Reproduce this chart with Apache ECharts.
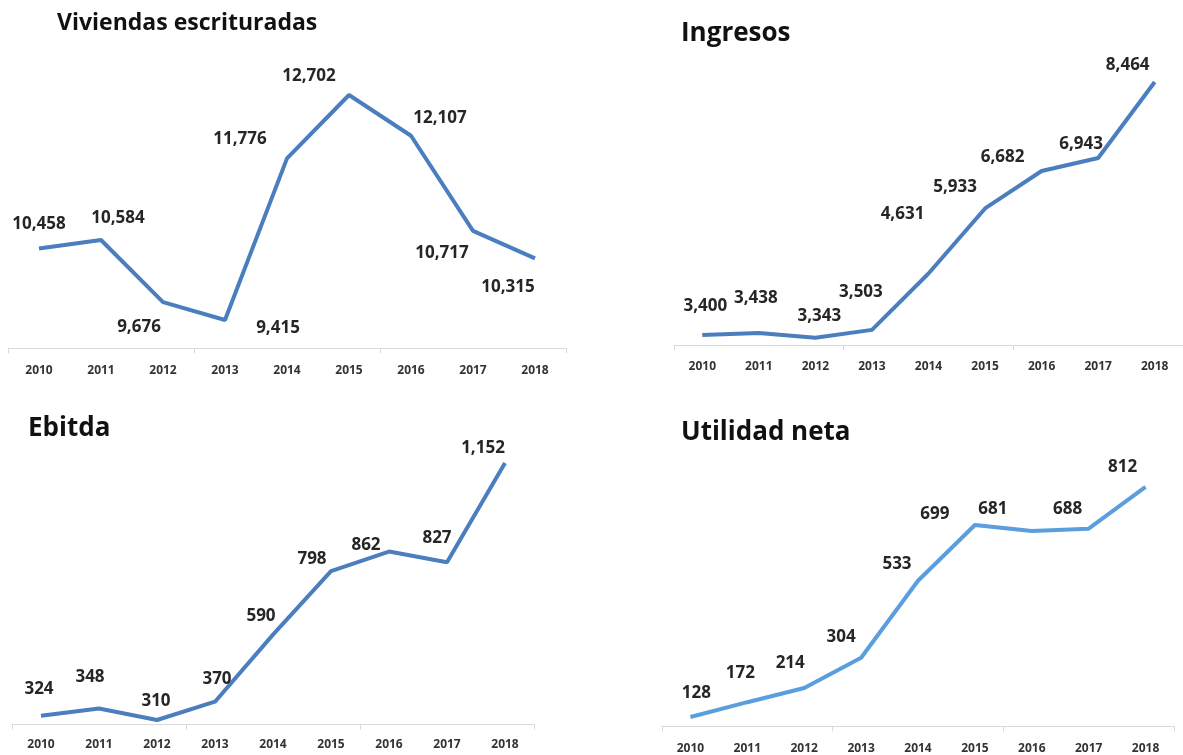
<!DOCTYPE html>
<html>
<head>
<meta charset="utf-8">
<script src="https://cdn.jsdelivr.net/npm/echarts@6/dist/echarts.min.js"></script>
<style>
  html, body { margin: 0; padding: 0; background: #fff; }
  #main { width: 1183px; height: 755px; }
</style>
</head>
<body>
<div id="main"></div>
<script>
// años (eje x compartido)
var years = ['2010', '2011', '2012', '2013', '2014', '2015', '2016', '2017', '2018'];

// valores de cada panel
var viviendas = [10458, 10584, 9676, 9415, 11776, 12702, 12107, 10717, 10315];
var ingresos  = [3400, 3438, 3343, 3503, 4631, 5933, 6682, 6943, 8464];
var ebitda    = [324, 348, 310, 370, 590, 798, 862, 827, 1152];
var utilidad  = [128, 172, 214, 304, 533, 699, 681, 688, 812];

// desplazamiento de las etiquetas (como en el excel original)
var offViviendas = [[0,-24],[17,-22],[-24,25],[53,8],[-47,-19],[-40,-19],[29,-18],[-31,22],[-27,29]];
var offIngresos  = [[3,-29],[-3,-35],[4,-22],[-11,-38],[-26,-59],[-30,-21],[-39,-14],[-17,-14],[-27,-17]];
var offEbitda    = [[-2,-27],[-9,-31],[-1,-19],[2,-23],[-12,-18],[-19,-12],[-23,-6],[-10,-24],[-22,-15]];
var offUtilidad  = [[6,-24],[-7,-29],[-14,-25],[-20,-21],[-21,-17],[-40,-11],[-39,-22],[-21,-20],[-23,-20]];

var FONT = '"Open Sans", "Noto Sans", sans-serif';

var myChart = echarts.init(document.getElementById('main'));

function armarDatos(vals, offs) {
    var out = [];
    for (var i = 0; i < vals.length; i++) {
        out.push({ value: vals[i], label: { offset: offs[i] } });
    }
    return out;
}

function ejeX(idx, margen) {
    return {
        type: 'category',
        gridIndex: idx,
        data: years,
        boundaryGap: true,
        axisLine: { lineStyle: { color: '#D9D9D9', width: 1 } },
        // una marca cada 3 años
        axisTick: {
            show: true, length: 5, lineStyle: { color: '#D9D9D9' },
            interval: function (index) { return index % 3 === 0; }
        },
        axisLabel: { interval: 0, margin: margen, fontSize: 12, fontWeight: 'bold', color: '#333', fontFamily: FONT },
        splitLine: { show: false }
    };
}

function ejeY(idx, mn, mx) {
    return { type: 'value', gridIndex: idx, min: mn, max: mx, show: false, splitLine: { show: false } };
}

function serie(idx, vals, offs, color) {
    return {
        type: 'line',
        xAxisIndex: idx,
        yAxisIndex: idx,
        data: armarDatos(vals, offs),
        symbol: 'circle',
        symbolSize: 0,
        showSymbol: true,
        lineStyle: { color: color, width: 4 },
        itemStyle: { color: color },
        label: {
            show: true,
            position: 'inside',
            fontSize: 17,
            fontWeight: 'bold',
            color: '#262626',
            fontFamily: FONT,
            formatter: function (p) { return echarts.format.addCommas(p.value); }
        },
        emphasis: { disabled: true },
        animation: false
    };
}

var tituloChico = { fontSize: 23, fontWeight: 'bold', color: '#111', fontFamily: FONT };
var tituloStyle = { fontSize: 26, fontWeight: 'bold', color: '#111', fontFamily: FONT };

var option = {
    title: [
        { text: 'Viviendas escrituradas', left: 52, top: 7, textStyle: tituloChico },
        { text: 'Ingresos', left: 676, top: 16, textStyle: tituloStyle },
        { text: 'Ebitda', left: 23, top: 411, textStyle: tituloStyle },
        { text: 'Utilidad neta', left: 676, top: 415, textStyle: tituloStyle }
    ],
    grid: [
        { left: 8, top: 74.6, width: 558, height: 273.8 },
        { left: 674, top: 55.2, width: 516, height: 289.8 },
        { left: 12, top: 448.4, width: 522, height: 276.2 },
        { left: 662, top: 474.2, width: 512, height: 252.2 }
    ],
    xAxis: [ejeX(0, 16), ejeX(1, 16), ejeX(2, 14), ejeX(3, 16)],
    yAxis: [
        ejeY(0, 9000, 13000),
        ejeY(1, 3200, 9000),
        ejeY(2, 295, 1200),
        ejeY(3, 100, 850)
    ],
    series: [
        serie(0, viviendas, offViviendas, '#4A7EBF'),
        serie(1, ingresos, offIngresos, '#4A7EBF'),
        serie(2, ebitda, offEbitda, '#4A7EBF'),
        serie(3, utilidad, offUtilidad, '#5A9EDD')
    ]
};

myChart.setOption(option);
</script>
</body>
</html>
